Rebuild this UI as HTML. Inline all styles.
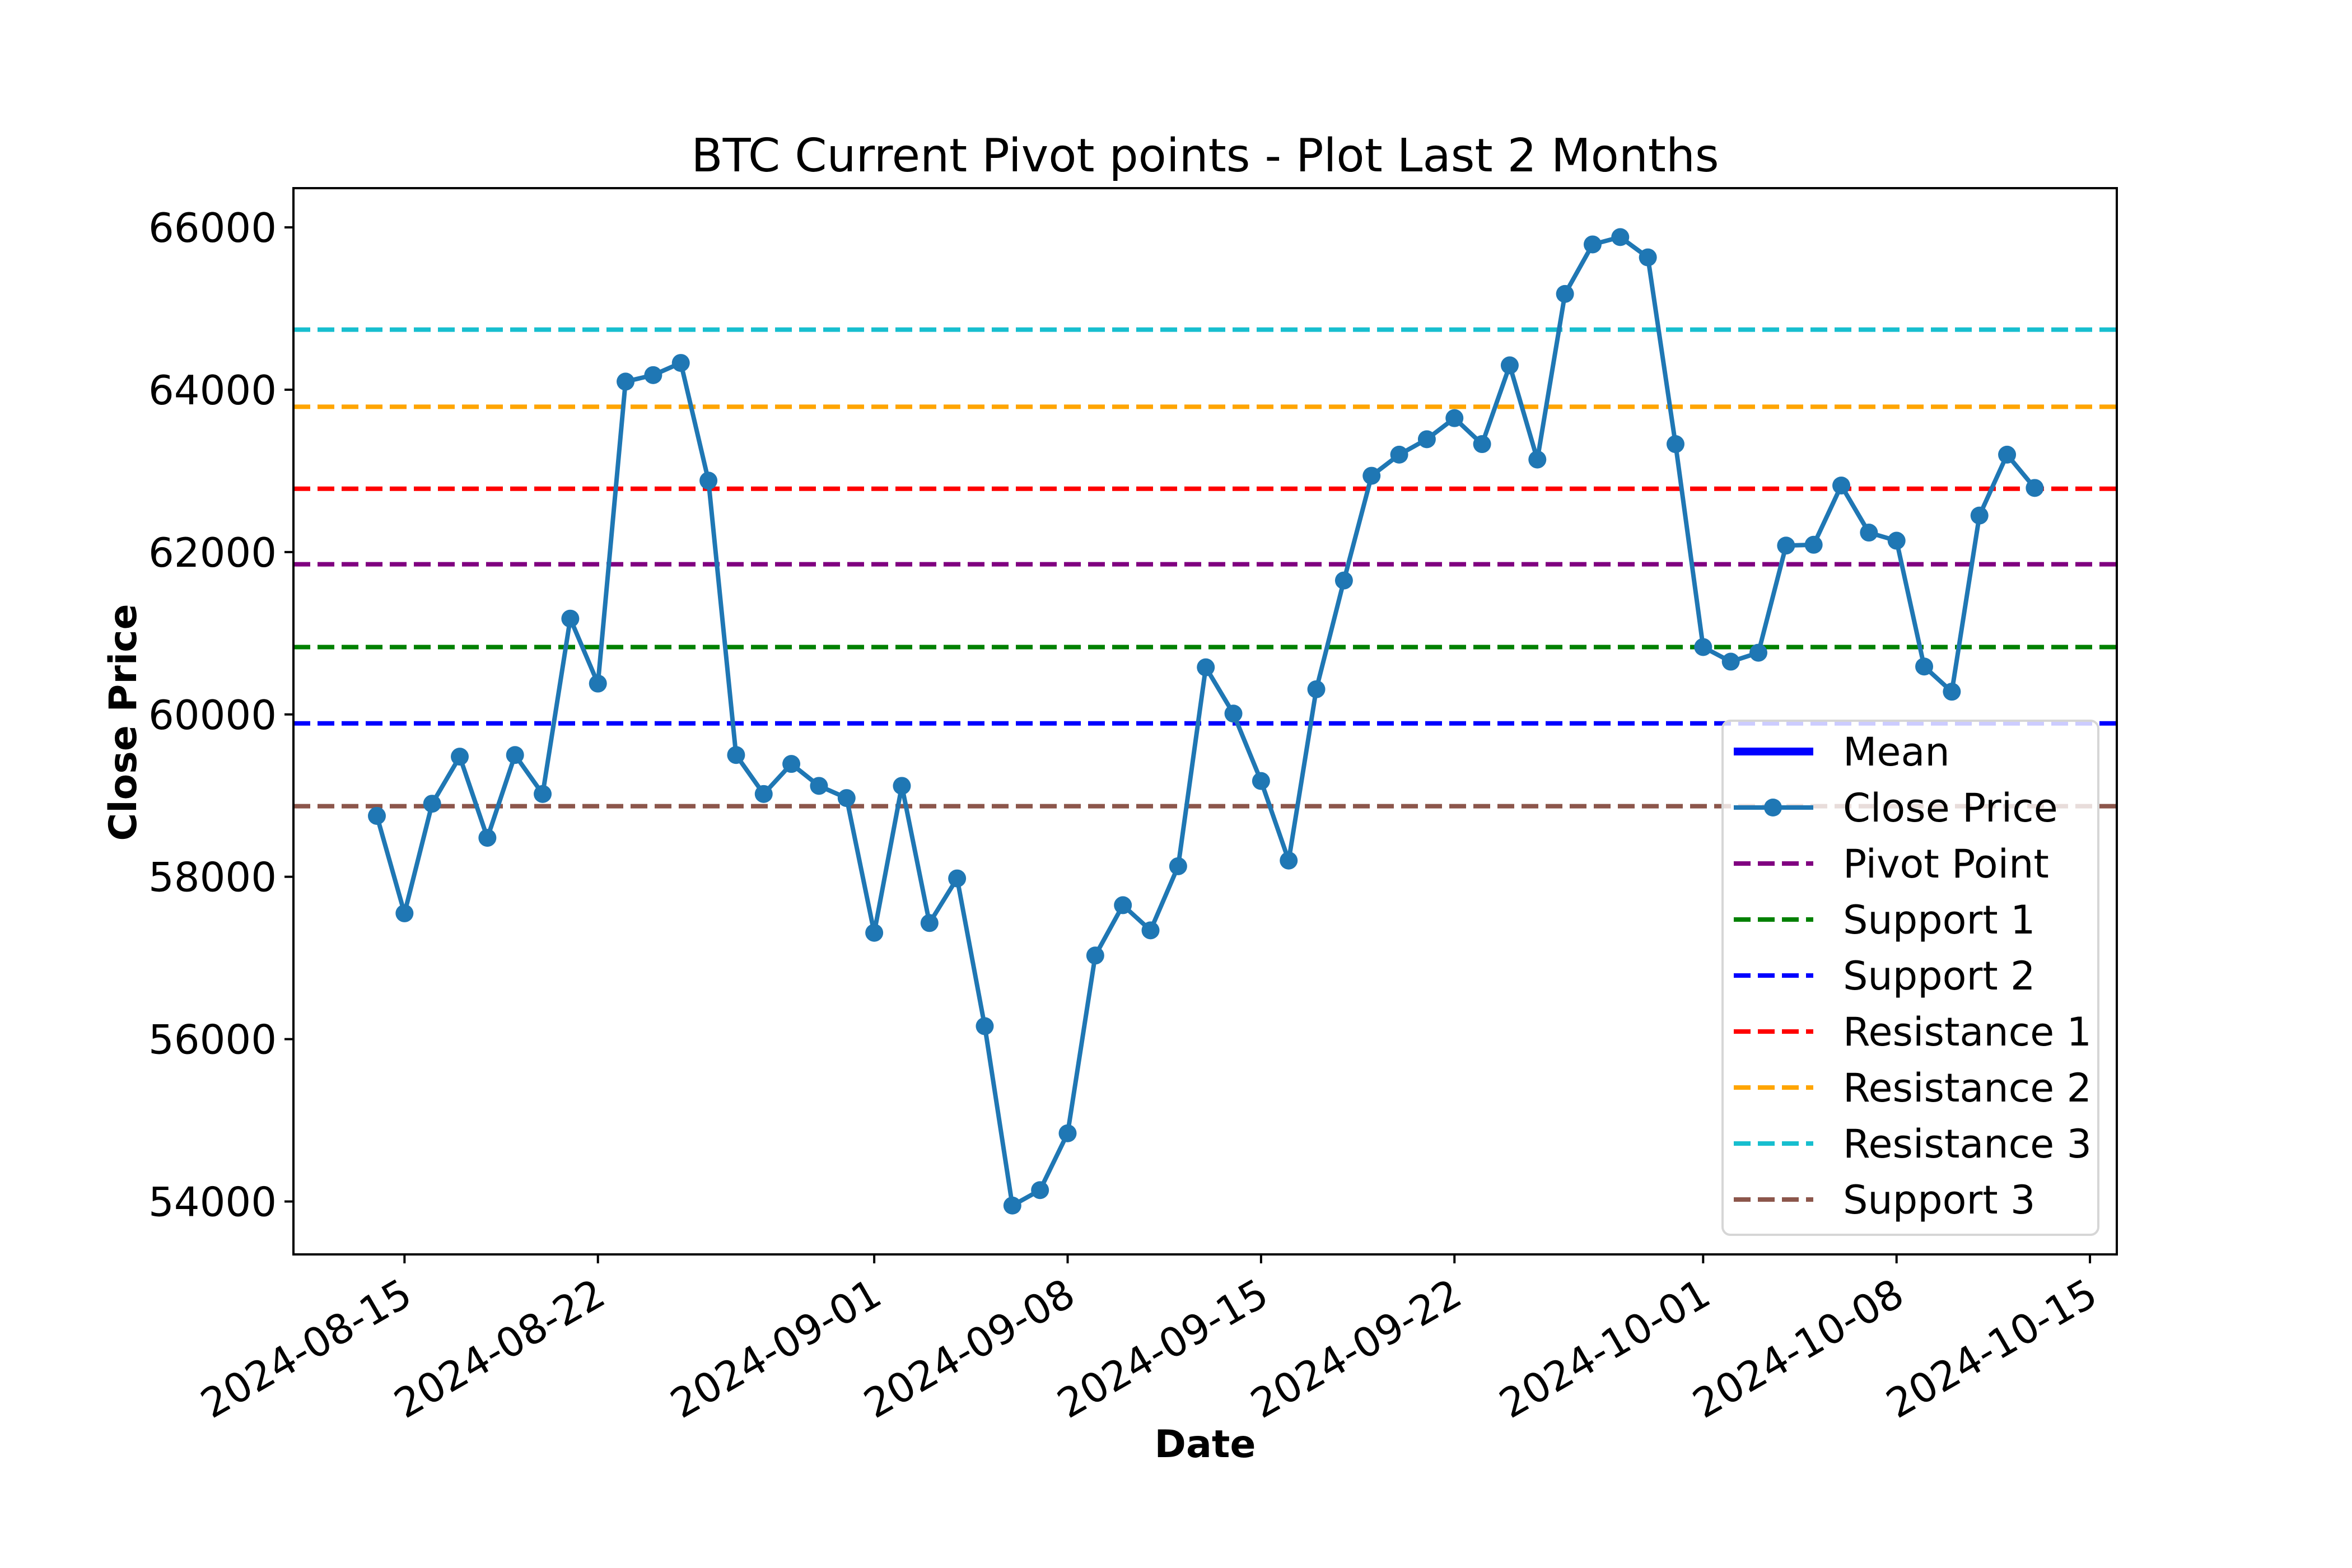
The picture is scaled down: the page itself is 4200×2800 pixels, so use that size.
<!DOCTYPE html>
<html><head><meta charset="utf-8"><style>html,body{margin:0;padding:0;background:#fff}svg{display:block}</style></head>
<body>
<svg id="chart" xmlns="http://www.w3.org/2000/svg" width="4200" height="2800" viewBox="0 0 4200 2800" font-family="'DejaVu Sans','Liberation Sans',sans-serif">
<rect width="4200" height="2800" fill="#fff"/>
<text x="2152" y="306" font-size="82" text-anchor="middle">BTC Current Pivot points - Plot Last 2 Months</text>
<text x="2152" y="2602" font-size="68" font-weight="bold" text-anchor="middle">Date</text>
<text transform="translate(243,1290) rotate(-90)" font-size="68" font-weight="bold" text-anchor="middle">Close Price</text>
<g id="levels"></g>
<g id="series"></g>
<g id="axes"></g>
<g id="legend"></g>
</svg>
<script>
const closePrices = [58750,57550,58900,59480,58480,59500,59020,61180,60380,64100,64180,64330,62880,59500,59020,59390,59120,58970,
57310,59120,57430,57980,56160,53950,54140,54840,57030,57650,57340,58130,60580,60010,59180,58200,60310,61650,62940,63200,63390,63650,63330,64300,63140,65180,65790,65880,65630,63330,
60830,60650,60760,62080,62090,62820,62240,62140,60590,60280,62450,63200,62790];
const levelNames = ['Pivot Point','Support 1','Support 2','Resistance 1','Resistance 2','Resistance 3','Support 3'];
const levelValues = [61850,60830,59890,62780,63790,64740,58870];
const levelColors = ['purple','green','blue','red','orange','#17becf','#8c564b'];
const yTicks = [54000,56000,58000,60000,62000,64000,66000];
const xTickLabels = ['2024-08-15','2024-08-22','2024-09-01','2024-09-08','2024-09-15','2024-09-22','2024-10-01','2024-10-08','2024-10-15'];

const NS='http://www.w3.org/2000/svg';
const L=524,R=3780,T=336,B=2240;
const day0=Date.UTC(2024,7,14);
function dayIdx(s){const p=s.split('-');return (Date.UTC(+p[0],+p[1]-1,+p[2])-day0)/86400000;}
function xs(d){return 673+d*49.34;}
function ys(v){return 406+(66000-v)*0.14496;}
function mk(tag,attrs,parent){const e=document.createElementNS(NS,tag);for(const k in attrs)e.setAttribute(k,attrs[k]);parent.appendChild(e);return e;}
const gl=document.getElementById('levels'),gs=document.getElementById('series'),ga=document.getElementById('axes'),gg=document.getElementById('legend');

levelValues.forEach((v,i)=>{
  const ln=mk('line',{x1:L,x2:R,y1:ys(v),y2:ys(v),stroke:levelColors[i],'stroke-width':8,'stroke-dasharray':'30,13'},gl);
  
  
});
let pts=closePrices.map((v,i)=>xs(i)+','+ys(v)).join(' ');
const pl=mk('polyline',{points:pts,fill:'none',stroke:'#1f77b4','stroke-width':8,'stroke-linejoin':'round'},gs);


closePrices.forEach((v,i)=>{
  const c=mk('circle',{cx:xs(i),cy:ys(v),r:16,fill:'#1f77b4'},gs);
  
  
});
const fr=mk('rect',{x:L,y:T,width:R-L,height:B-T,fill:'none',stroke:'#000','stroke-width':4},ga);


yTicks.forEach(v=>{
  mk('line',{x1:L-16,x2:L,y1:ys(v),y2:ys(v),stroke:'#000','stroke-width':4},ga);
  const t=mk('text',{x:L-30,y:ys(v)+26,'font-size':72,'text-anchor':'end'},ga);
  t.textContent=v;
  
  
});
xTickLabels.forEach(s=>{
  const x=xs(dayIdx(s));
  mk('line',{x1:x,x2:x,y1:B,y2:B+16,stroke:'#000','stroke-width':4},ga);
  const t=mk('text',{x:x-8,y:B+92,'font-size':72,'text-anchor':'end',transform:`rotate(-30,${x-8},${B+40})`},ga);
  t.textContent=s;
  
  
});
const lb=mk('rect',{x:3076,y:1287,width:671,height:918,rx:14,fill:'#fff','fill-opacity':0.8,stroke:'#d6d6d6','stroke-width':4},gg);


const legNames=['Mean','Close Price'].concat(levelNames);
legNames.forEach((n,i)=>{
  const y=1342+i*100;
  if(i===0) mk('line',{x1:3096,x2:3238,y1:y,y2:y,stroke:'blue','stroke-width':14},gg);
  else if(i===1){mk('line',{x1:3096,x2:3238,y1:y,y2:y,stroke:'#1f77b4','stroke-width':8},gg);mk('circle',{cx:3166,cy:y,r:16,fill:'#1f77b4'},gg);}
  else mk('line',{x1:3096,x2:3238,y1:y,y2:y,stroke:levelColors[i-2],'stroke-width':8,'stroke-dasharray':'30,13'},gg);
  const t=mk('text',{x:3291,y:y+25,'font-size':70},gg);
  t.textContent=n;
  
  
});
</script>
</body></html>
